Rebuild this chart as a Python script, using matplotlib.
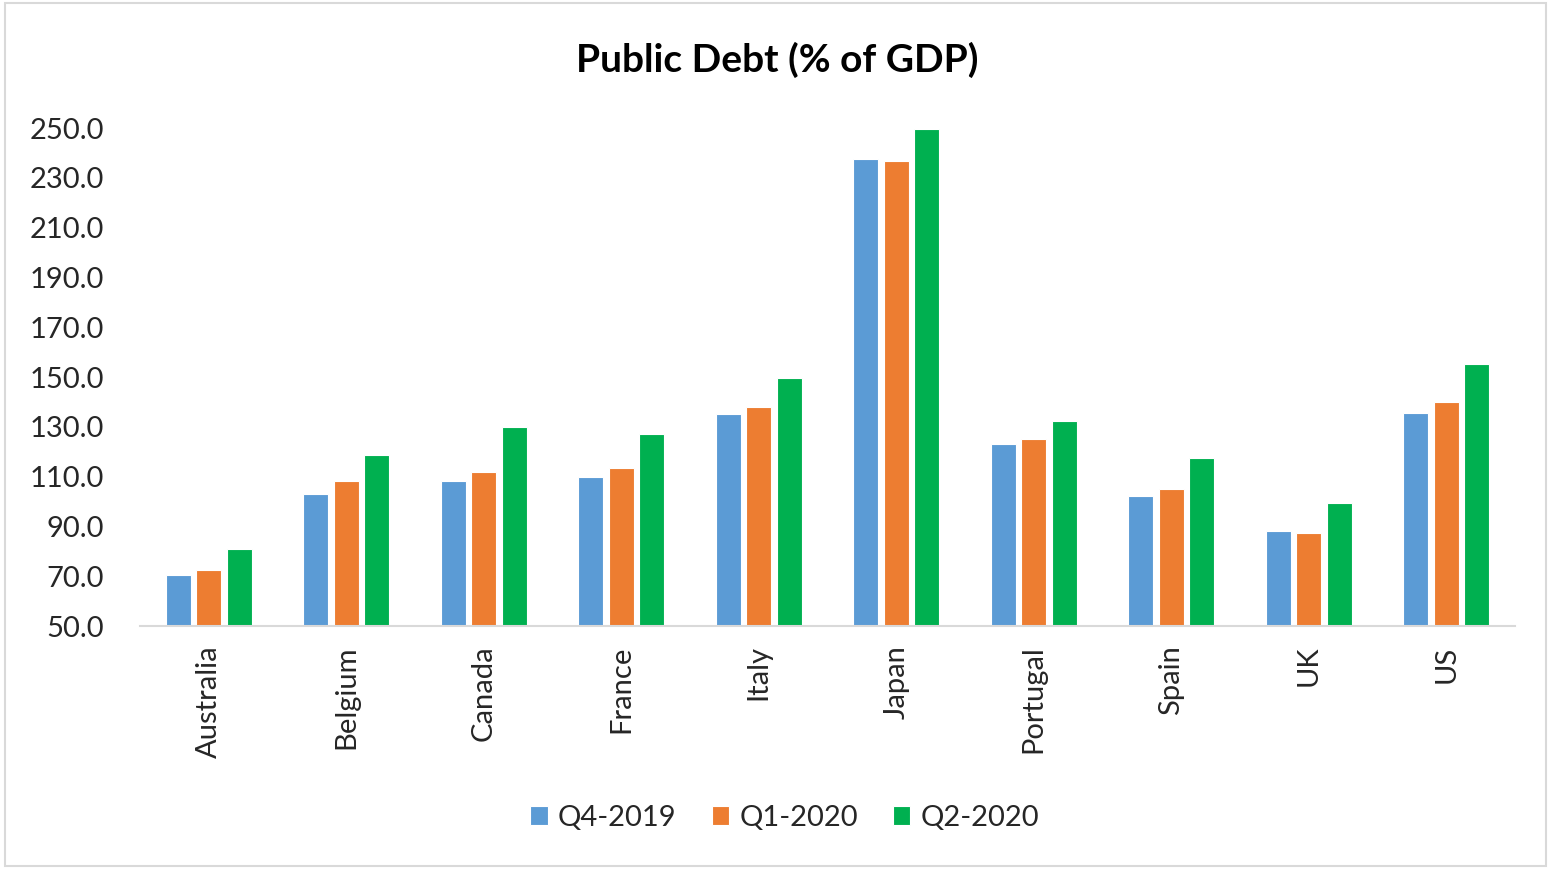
import numpy as np
import matplotlib
matplotlib.use("Agg")
import matplotlib.pyplot as plt
from matplotlib.patches import Rectangle

plt.rcParams['font.family'] = ['Lato', 'DejaVu Sans']

# Public debt, % of GDP
countries = ['Australia', 'Belgium', 'Canada', 'France', 'Italy',
             'Japan', 'Portugal', 'Spain', 'UK', 'US']
q4_2019 = [70.4, 102.9, 108.4, 109.7, 135.0, 237.6, 123.1, 102.2, 88.2, 135.7]
q1_2020 = [72.6, 108.4, 111.8, 113.3, 137.8, 236.9, 125.3, 104.9, 87.5, 139.8]
q2_2020 = [80.8, 118.8, 130.0, 127.2, 149.6, 249.4, 132.3, 117.5, 99.3, 155.1]
series_names = ['Q4-2019', 'Q1-2020', 'Q2-2020']
colors = ['#5B9BD5', '#ED7D31', '#00B050']

fig = plt.figure(figsize=(15.51, 8.69), dpi=100)
ax = fig.add_axes([0.0903, 0.2796, 0.8865, 0.5731])

x = np.arange(len(countries))
width = 0.18
step = 0.222
for i, (vals, name, col) in enumerate(zip([q4_2019, q1_2020, q2_2020], series_names, colors)):
    ax.bar(x + (i - 1) * step, np.array(vals) - 50, bottom=50, width=width,
           color=col, edgecolor='white', linewidth=0.8, label=name)

ax.set_xlim(-0.5, len(countries) - 0.5)
ax.set_ylim(50, 250)
ax.set_yticks(np.arange(50, 251, 20))
ax.set_yticklabels([f'{v:.1f}' for v in np.arange(50, 251, 20)])
ax.set_xticks(x)
ax.set_xticklabels(countries, rotation=90)
ax.tick_params(axis='both', length=0, labelsize=21, colors='#262626')
ax.tick_params(axis='x', pad=14)
ax.tick_params(axis='y', pad=26)

for s in ['top', 'right', 'left']:
    ax.spines[s].set_visible(False)
ax.spines['bottom'].set_color('#D9D9D9')
ax.spines['bottom'].set_linewidth(1.5)

fig.text(0.501, 0.931, 'Public Debt (% of GDP)', ha='center', va='center',
         fontsize=28, fontweight='bold', color='black')

fig.legend(loc='center', bbox_to_anchor=(0.506, 0.059), ncol=3, frameon=False,
           fontsize=21, handlelength=0.6, handleheight=0.6, handletextpad=0.35,
           columnspacing=1.2, labelcolor='#262626')

# chart area border
fig.patches.append(Rectangle((0.003, 0.003), 0.994, 0.993, transform=fig.transFigure,
                             fill=False, edgecolor='#D9D9D9', linewidth=1.5))

fig.savefig('out.png', dpi=100)
